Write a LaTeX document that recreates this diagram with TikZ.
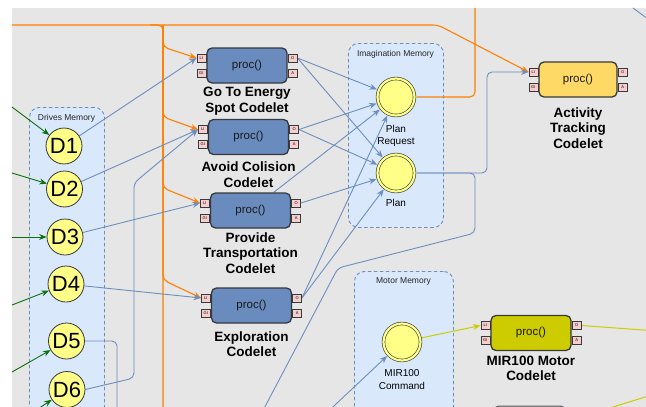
\documentclass[tikz,border=0pt]{standalone}
\usepackage{fontspec}
\setmainfont{Liberation Sans}
\usetikzlibrary{arrows.meta,calc}

\definecolor{canvas}{HTML}{E6E6E6}
\definecolor{memfill}{HTML}{DAE8FC}
\definecolor{memline}{HTML}{6C8EBF}
\definecolor{boxline}{HTML}{36393D}
\definecolor{procblue}{HTML}{6A8BBE}
\definecolor{actyellow}{HTML}{FFD966}
\definecolor{motorolive}{HTML}{CCCC00}
\definecolor{spareshade}{HTML}{B3B3B3}
\definecolor{pinfill}{HTML}{F8CECC}
\definecolor{circfill}{HTML}{FFFF88}
\definecolor{wireblue}{HTML}{6C8EBF}
\definecolor{wireorange}{HTML}{FF8000}
\definecolor{wiregreen}{HTML}{0A720A}
\definecolor{wireyellow}{HTML}{CCCC00}

\pgfdeclarelayer{back}
\pgfdeclarelayer{wires}
\pgfsetlayers{back,wires,main}

\tikzset{
  memory/.style={draw=memline, fill=memfill, dash pattern=on 3.5pt off 2.5pt,
    line width=0.9pt, rounded corners=10pt, anchor=north west, inner sep=0pt},
  memtitle/.style={font=\fontsize{8.5}{10}\selectfont, text=black!85},
  codelet/.style={draw=boxline, line width=1.3pt, rounded corners=5pt,
    minimum height=35pt, inner sep=0pt, font=\fontsize{11.5}{13}\selectfont, text=black!90},
  pin/.style={draw=boxline, fill=pinfill, line width=0.6pt, minimum width=9pt,
    minimum height=8pt, inner sep=0pt, font=\fontsize{4}{4}\selectfont},
  cname/.style={align=center, font=\fontsize{13.5}{15.5}\selectfont\bfseries},
  drive/.style={circle, draw=boxline, fill=circfill, line width=0.8pt,
    minimum size=36pt, inner sep=0pt, font=\fontsize{22}{24}\selectfont},
  mobj/.style={circle, draw=boxline, double=circfill, double distance=2.2pt,
    line width=0.6pt, fill=circfill, minimum size=37pt, inner sep=0pt, outer sep=2pt},
  objname/.style={align=center, font=\fontsize{10}{12.5}\selectfont},
  wb/.style={draw=wireblue, line width=0.9pt, rounded corners=5pt},
  wo/.style={draw=wireorange, line width=1.1pt, rounded corners=5pt},
  wg/.style={draw=wiregreen, line width=0.9pt},
  wy/.style={draw=wireyellow, line width=1pt},
  arrowed/.style={-{Stealth[length=7.5pt,width=6pt]}},
}

% one codelet: body plus its four ports (LI, GI, O, A)
\newcommand\codeletunit[5]{%
  \node[codelet, fill=#4, minimum width=#5pt] (#1) at (#2,#3) {proc()};
  \node[pin] (#1li) at ($(#1.west)+(-5,-7.5)$) {LI};
  \node[pin] (#1gi) at ($(#1.west)+(-5,7.5)$) {GI};
  \node[pin] (#1o)  at ($(#1.east)+(5,-7.5)$) {O};
  \node[pin] (#1a)  at ($(#1.east)+(5,7.5)$) {A};
}

\begin{document}
\begin{tikzpicture}[x=1pt,y=-1pt]
\useasboundingbox (0,0) rectangle (646,407);

% ---------- memories and canvas ----------
\begin{pgfonlayer}{back}
  \fill[canvas] (12,8) rectangle (646,407);
  \node[memory, minimum width=75pt, minimum height=330pt] (drivesmem) at (29,107) {};
  \node[memory, minimum width=95pt, minimum height=184pt] (imagmem) at (348,43) {};
  \node[memory, minimum width=99pt, minimum height=170pt] (motormem) at (354,271) {};
\end{pgfonlayer}

\node[memtitle] (drivestitle) at (66.5,118) {Drives Memory};
\node[memtitle] (imagtitle) at (395.5,54) {Imagination Memory};
\node[memtitle] (motortitle) at (403.5,281) {Motor Memory};

% ---------- drives ----------
\node[drive] (d1) at (64,146) {D1};
\node[drive] (d2) at (64.5,189) {D2};
\node[drive] (d3) at (65,237) {D3};
\node[drive] (d4) at (66,284) {D4};
\node[drive] (d5) at (66.5,341) {D5};
\node[drive] (d6) at (67,389.5) {D6};

% ---------- memory objects ----------
\node[mobj] (preq) at (396,97) {};
\node[objname] (preqname) at (396,136) {Plan\\Request};
\node[mobj] (plan) at (396,173) {};
\node[objname] (planname) at (396,203) {Plan};
\node[mobj] (mircmd) at (402,342) {};
\node[objname] (mirname) at (402,379.5) {MIR100\\Command};

% ---------- codelets ----------
\codeletunit{c1}{247}{65.5}{procblue}{80}
\codeletunit{c2}{248.5}{137}{procblue}{80}
\codeletunit{c3}{250.5}{210.5}{procblue}{80}
\codeletunit{c4}{251.5}{305.5}{procblue}{80}
\codeletunit{c5}{578}{79.5}{actyellow}{78}
\codeletunit{c6}{531}{333}{motorolive}{80}
\node[draw=boxline!80, fill=spareshade, line width=1.2pt, rounded corners=5pt,
      minimum width=72pt, minimum height=35pt, anchor=north west] (c7) at (493,405.5) {};

\node[cname] (c1name) at (247,101) {Go To Energy\\Spot Codelet};
\node[cname] (c2name) at (248.5,174.5) {Avoid Colision\\Codelet};
\node[cname] (c3name) at (250.5,253) {Provide\\Transportation\\Codelet};
\node[cname] (c4name) at (251.5,344) {Exploration\\Codelet};
\node[cname] (c5name) at (578,128) {Activity\\Tracking\\Codelet};
\node[cname] (c6name) at (531,368.5) {MIR100 Motor\\Codelet};

% ---------- free ends and bends ----------
\coordinate (otopl) at (12,25);
\coordinate (otopbend) at (438,25);
\coordinate (otrunkin) at (150,25);
\coordinate (otrunktop) at (163,25);
\coordinate (otrunkbot) at (163,412);
\coordinate (ob1) at (163,47);
\coordinate (ob2) at (163,117);
\coordinate (ob3) at (163,188);
\coordinate (ob4) at (163,280);
\coordinate (prturn) at (475,97);
\coordinate (prup) at (475,8);
\coordinate (atcol) at (487,0);
\coordinate (pdcol) at (475,233);
\coordinate (pdknee) at (338,268);
\coordinate (pdend) at (258,420);
\coordinate (mirin) at (319,420);
\coordinate (d6turn) at (134,378);
\coordinate (d6bend) at (134,183);
\coordinate (d5turn) at (117,341);
\coordinate (d5down) at (117,412);
\coordinate (trA) at (633,8);
\coordinate (trB) at (650,20.5);
\coordinate (myout) at (650,330.5);
\coordinate (ylA) at (600,411);
\coordinate (ylB) at (650,395.5);
\coordinate (g1) at (12,107);
\coordinate (g2) at (12,173);
\coordinate (g3) at (12,237);
\coordinate (g4) at (12,305);
\coordinate (g5) at (12,372);
\coordinate (g6) at (14,425);

% ---------- connectors ----------
\begin{pgfonlayer}{wires}
  % activation (orange)
  \draw[wo, arrowed] (otopl) -- (otopbend) -- (c5li.west);
  \draw[wo] (otrunkin) -- (otrunktop) -- (otrunkbot);
  \draw[wo, arrowed] (otrunktop) -- (ob1) -- (c1li.west);
  \draw[wo, arrowed] (otrunktop) -- (ob2) -- (c2li.west);
  \draw[wo, arrowed] (otrunktop) -- (ob3) -- (c3li.west);
  \draw[wo, arrowed] (otrunktop) -- (ob4) -- (c4li.west);
  \draw[wo] (preq.east) -- (prturn) -- (prup);

  % drives in (green)
  \draw[wg, arrowed] (g1) -- (d1);
  \draw[wg, arrowed] (g2) -- (d2);
  \draw[wg, arrowed] (g3) -- (d3);
  \draw[wg, arrowed] (g4) -- (d4);
  \draw[wg, arrowed] (g5) -- (d5);
  \draw[wg, arrowed] (g6) -- (d6);

  % drives to codelets (blue)
  \draw[wb, arrowed] (d1) -- (c1li.west);
  \draw[wb, arrowed] (d2) -- (c2li.west);
  \draw[wb, arrowed] (d3) -- (c3li.west);
  \draw[wb, arrowed] (d4) -- (c4li.west);
  \draw[wb, arrowed] (d6.east) -- (d6turn) -- (d6bend) -- (c2li.west);
  \draw[wb] (d5.east) -- (d5turn) -- (d5down);

  % codelets to imagination memory
  \draw[wb, arrowed] (c1o.east) -- (preq);
  \draw[wb, arrowed] (c1o.east) -- (plan);
  \draw[wb, arrowed] (c2o.east) -- (preq);
  \draw[wb, arrowed] (c2o.east) -- (plan);
  \draw[wb, arrowed] (c3) -- (preq);
  \draw[wb, arrowed] (c3o.east) -- (plan);
  \draw[wb, arrowed] (c4o.east) -- (preq);
  \draw[wb, arrowed] (c4o.east) -- (plan);

  % plan outputs
  \draw[wb, arrowed] (plan.east) -- (plan.east -| atcol) -- (atcol |- c5li.west) -- (c5li.west);
  \draw[wb] (plan.east) -- (plan.east -| pdcol) -- (pdcol) -- (pdknee) -- (pdend);
  \draw[wb, arrowed] (mirin) -- (mircmd);
  \draw[wb] (trA) -- (trB);

  % motor path (yellow)
  \draw[wy, arrowed] (mircmd) -- (c6li.west);
  \draw[wy] (c6o.east) -- (myout);
  \draw[wy] (ylA) -- (ylB);
\end{pgfonlayer}
\end{tikzpicture}
\end{document}
